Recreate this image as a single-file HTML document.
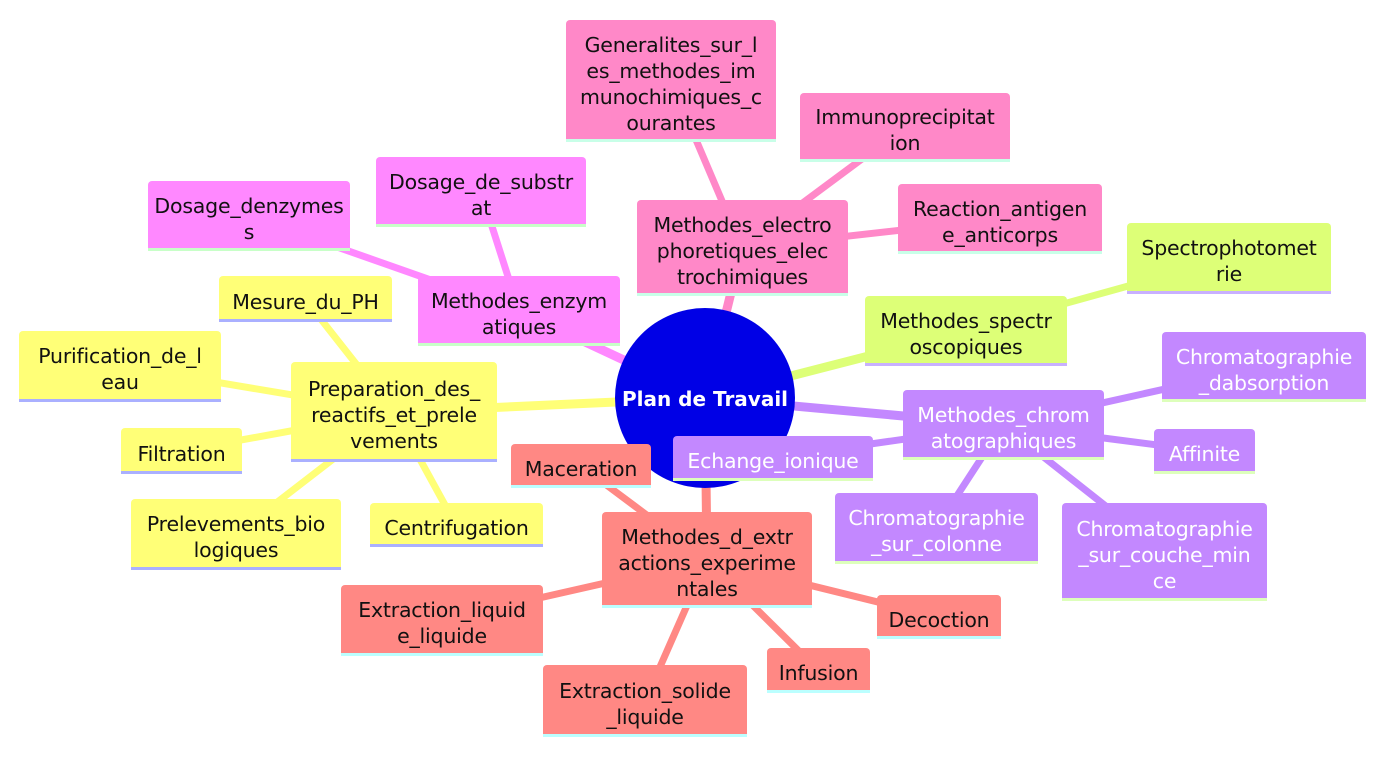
<!DOCTYPE html>
<html><head><meta charset="utf-8"><style>
body{margin:0;width:1386px;height:757px;background:#fff;position:relative;overflow:hidden;font-family:"DejaVu Sans","Liberation Sans",sans-serif;}
.n{position:absolute;display:flex;align-items:center;justify-content:center;text-align:center;font-size:20.5px;line-height:26px;padding-top:8px;box-sizing:border-box;border-radius:4px 4px 0 0;color:#111;white-space:nowrap;letter-spacing:-0.2px}
.pk{background:#ff88c8;border-bottom:3px solid #c8ffe8}
.mg{background:#ff88ff;border-bottom:3px solid #c8ffc8}
.ye{background:#ffff77;border-bottom:3px solid #aab0ff}
.gr{background:#ddff77;border-bottom:3px solid #c8b0ff}
.pu{background:#c388ff;border-bottom:3px solid #ddffbb;color:#fff}
.sa{background:#ff8884;border-bottom:3px solid #bbffff}
svg{position:absolute;left:0;top:0}
</style></head><body>
<svg width="1386" height="757" stroke-linecap="round">
<g stroke="#ff88c8" stroke-width="9"><line x1="705" y1="398" x2="742" y2="248"/></g>
<g stroke="#ff88c8" stroke-width="7"><line x1="742" y1="248" x2="671" y2="81"/><line x1="742" y1="248" x2="905" y2="127"/><line x1="742" y1="248" x2="1000" y2="219"/></g>
<g stroke="#ff88ff" stroke-width="9"><line x1="705" y1="398" x2="519" y2="311"/></g>
<g stroke="#ff88ff" stroke-width="7"><line x1="519" y1="311" x2="481" y2="192"/><line x1="519" y1="311" x2="249" y2="216"/></g>
<g stroke="#ffff77" stroke-width="9"><line x1="705" y1="398" x2="394" y2="412"/></g>
<g stroke="#ffff77" stroke-width="7"><line x1="394" y1="412" x2="305" y2="299"/><line x1="394" y1="412" x2="120" y2="366"/><line x1="394" y1="412" x2="181" y2="451"/><line x1="394" y1="412" x2="236" y2="534"/><line x1="394" y1="412" x2="456" y2="525"/></g>
<g stroke="#ddff77" stroke-width="9"><line x1="705" y1="398" x2="966" y2="331"/></g>
<g stroke="#ddff77" stroke-width="7"><line x1="966" y1="331" x2="1229" y2="258"/></g>
<g stroke="#c388ff" stroke-width="9"><line x1="705" y1="398" x2="1003" y2="425"/></g>
<g stroke="#c388ff" stroke-width="7"><line x1="1003" y1="425" x2="1264" y2="367"/><line x1="1003" y1="425" x2="1204" y2="451"/><line x1="1003" y1="425" x2="773" y2="458"/><line x1="1003" y1="425" x2="936" y2="528"/><line x1="1003" y1="425" x2="1164" y2="552"/></g>
<g stroke="#ff8884" stroke-width="9"><line x1="705" y1="398" x2="707" y2="560"/></g>
<g stroke="#ff8884" stroke-width="7"><line x1="707" y1="560" x2="581" y2="466"/><line x1="707" y1="560" x2="442" y2="620"/><line x1="707" y1="560" x2="645" y2="701"/><line x1="707" y1="560" x2="818" y2="670"/><line x1="707" y1="560" x2="939" y2="617"/></g>
<circle cx="705" cy="398" r="90" fill="#0000e6"/>
<text x="705" y="406" fill="#fff" font-size="20" font-weight="bold" text-anchor="middle" font-family="DejaVu Sans, Liberation Sans, sans-serif">Plan de Travail</text>
</svg>

<div class="n pk" style="left:637px;top:200px;width:211px;height:96px">Methodes_electro<br>phoretiques_elec<br>trochimiques</div>
<div class="n pk" style="left:566px;top:20px;width:210px;height:122px">Generalites_sur_l<br>es_methodes_im<br>munochimiques_c<br>ourantes</div>
<div class="n pk" style="left:800px;top:93px;width:210px;height:69px">Immunoprecipitat<br>ion</div>
<div class="n pk" style="left:898px;top:184px;width:204px;height:70px">Reaction_antigen<br>e_anticorps</div>

<div class="n mg" style="left:418px;top:276px;width:202px;height:70px">Methodes_enzym<br>atiques</div>
<div class="n mg" style="left:376px;top:157px;width:210px;height:70px">Dosage_de_substr<br>at</div>
<div class="n mg" style="left:148px;top:181px;width:202px;height:70px">Dosage_denzymes<br>s</div>

<div class="n ye" style="left:291px;top:362px;width:206px;height:100px">Preparation_des_<br>reactifs_et_prele<br>vements</div>
<div class="n ye" style="left:219px;top:276px;width:173px;height:46px">Mesure_du_PH</div>
<div class="n ye" style="left:19px;top:331px;width:202px;height:71px">Purification_de_l<br>eau</div>
<div class="n ye" style="left:121px;top:428px;width:121px;height:46px">Filtration</div>
<div class="n ye" style="left:131px;top:499px;width:210px;height:71px">Prelevements_bio<br>logiques</div>
<div class="n ye" style="left:370px;top:503px;width:173px;height:44px">Centrifugation</div>

<div class="n gr" style="left:865px;top:296px;width:202px;height:70px">Methodes_spectr<br>oscopiques</div>
<div class="n gr" style="left:1127px;top:223px;width:204px;height:71px">Spectrophotomet<br>rie</div>

<div class="n pu" style="left:903px;top:390px;width:201px;height:70px">Methodes_chrom<br>atographiques</div>
<div class="n pu" style="left:1162px;top:332px;width:204px;height:70px">Chromatographie<br>_dabsorption</div>
<div class="n pu" style="left:1154px;top:429px;width:101px;height:45px">Affinite</div>
<div class="n pu" style="left:673px;top:436px;width:200px;height:45px">Echange_ionique</div>
<div class="n pu" style="left:835px;top:493px;width:203px;height:71px">Chromatographie<br>_sur_colonne</div>
<div class="n pu" style="left:1062px;top:503px;width:205px;height:98px">Chromatographie<br>_sur_couche_min<br>ce</div>

<div class="n sa" style="left:602px;top:512px;width:210px;height:96px">Methodes_d_extr<br>actions_experime<br>ntales</div>
<div class="n sa" style="left:511px;top:444px;width:140px;height:44px">Maceration</div>
<div class="n sa" style="left:341px;top:585px;width:202px;height:71px">Extraction_liquid<br>e_liquide</div>
<div class="n sa" style="left:543px;top:665px;width:204px;height:72px">Extraction_solide<br>_liquide</div>
<div class="n sa" style="left:767px;top:648px;width:103px;height:45px">Infusion</div>
<div class="n sa" style="left:877px;top:595px;width:124px;height:44px">Decoction</div>
</body></html>
